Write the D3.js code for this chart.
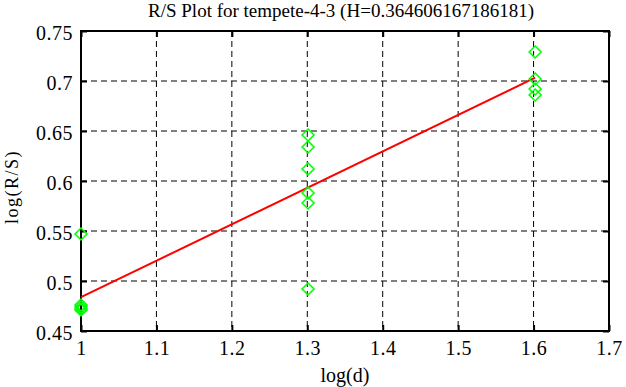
<!DOCTYPE html>
<html><head><meta charset="utf-8">
<script src="https://cdn.jsdelivr.net/npm/d3@7"></script>
<style>body{margin:0;background:#fff;} svg{display:block;} text{font-family:"Liberation Serif","DejaVu Serif",serif;fill:#000;}</style>
</head><body><svg id="c" width="626" height="387"></svg>
<script>
const titleText = "R/S Plot for tempete-4-3 (H=0.364606167186181)";
const xLabel = "log(d)";
const yLabel = "log(R/S)";
const xTicks = [1, 1.1, 1.2, 1.3, 1.4, 1.5, 1.6, 1.7];
const yTicks = [0.45, 0.5, 0.55, 0.6, 0.65, 0.7, 0.75];
const pointX = [1, 1, 1, 1, 1, 1.30103, 1.30103, 1.30103, 1.30103, 1.30103, 1.30103, 1.60206, 1.60206, 1.60206, 1.60206];
const pointY = [0.547, 0.476, 0.474, 0.472, 0.471, 0.646, 0.634, 0.612, 0.588, 0.578, 0.492, 0.729, 0.702, 0.692, 0.686];
const fitX = [1, 1.60206];
const fitY = [0.4838, 0.7033];

const svg = d3.select("#c");
const L = 81, R = 609, T = 31, B = 331;
const x = d3.scaleLinear().domain([1, 1.7]).range([L, R]);
const y = d3.scaleLinear().domain([0.45, 0.75]).range([B, T]);

// grid
const g = svg.append("g");
g.selectAll(".gx").data(xTicks.slice(1, -1)).join("line")
  .attr("x1", d => x(d)).attr("x2", d => x(d)).attr("y1", T).attr("y2", B)
  .attr("stroke", "#000").attr("stroke-width", 1).attr("stroke-dasharray", "6,4");
g.selectAll(".gy").data(yTicks.slice(1, -1)).join("line")
  .attr("y1", d => y(d)).attr("y2", d => y(d)).attr("x1", L).attr("x2", R)
  .attr("stroke", "#000").attr("stroke-width", 1).attr("stroke-dasharray", "6,4");

// axes with inner ticks
const fmt = d => d3.format("")(+d.toFixed(2));
const xa = svg.append("g").attr("transform", `translate(0,${B})`)
  .call(d3.axisBottom(x).tickValues(xTicks).tickSize(-6).tickFormat(fmt));
const xt = svg.append("g").attr("transform", `translate(0,${T})`)
  .call(d3.axisTop(x).tickValues(xTicks).tickSize(-6).tickFormat(""));
const ya = svg.append("g").attr("transform", `translate(${L},0)`)
  .call(d3.axisLeft(y).tickValues(yTicks).tickSize(-6).tickFormat(fmt));
const yr = svg.append("g").attr("transform", `translate(${R},0)`)
  .call(d3.axisRight(y).tickValues(yTicks).tickSize(-6).tickFormat(""));
[xa, xt, ya, yr].forEach(a => {
  a.attr("font-family", null).attr("font-size", null);
  a.select(".domain").remove();
  a.selectAll("line").attr("stroke", "#000").attr("stroke-width", 2);
  a.selectAll("text").style("font-family", "'Liberation Serif',serif").style("font-size", "20px")
    .style("letter-spacing", "0.5px").attr("fill", "#000");
});
ya.selectAll("text").attr("x", -8).attr("dy", null).attr("y", 8);
xa.selectAll("text").attr("y", 24).attr("dy", null);
svg.append("rect").attr("x", L).attr("y", T).attr("width", R - L).attr("height", B - T)
  .attr("fill", "none").attr("stroke", "#000").attr("stroke-width", 2);

// fit line
svg.append("path").datum(fitX.map((d, i) => [d, fitY[i]]))
  .attr("d", d3.line().x(d => x(d[0])).y(d => y(d[1])))
  .attr("stroke", "#ff0000").attr("stroke-width", 2).attr("fill", "none");

// points
svg.append("g").selectAll("path").data(pointX.map((d, i) => [d, pointY[i]])).join("path")
  .attr("d", d3.symbol().type(d3.symbolDiamond2).size(90))
  .attr("transform", d => `translate(${x(d[0])},${y(d[1])})`)
  .attr("fill", "none").attr("stroke", "#00ff00").attr("stroke-width", 1.6);

// labels
svg.append("text").attr("x", (L + R) / 2 - 4).attr("y", 17).attr("text-anchor", "middle")
  .style("font-size", "19px").text(titleText);
svg.append("text").attr("x", (L + R) / 2).attr("y", 382).attr("text-anchor", "middle")
  .style("font-size", "20px").text(xLabel);
svg.append("text").attr("transform", `translate(18,187) rotate(-90)`).attr("text-anchor", "middle")
  .style("font-size", "18px").style("letter-spacing", "1.5px").text(yLabel);
</script></body></html>
